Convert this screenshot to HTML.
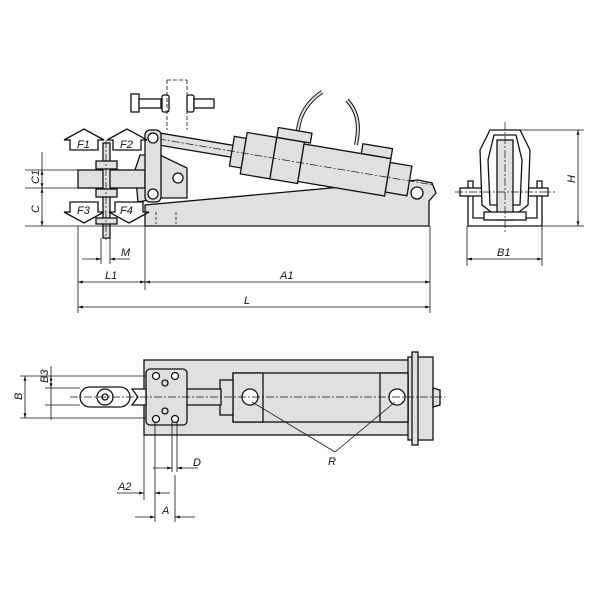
<!DOCTYPE html>
<html><head><meta charset="utf-8"><style>
html,body{margin:0;padding:0;background:#fff}
svg{display:block}
text{font-family:"Liberation Sans",sans-serif;font-style:italic;font-size:11px;fill:#111}
.s{stroke:#111;stroke-width:1.3;fill:#e0e0e0}
.w{stroke:#111;stroke-width:1.3;fill:#fff}
.l{stroke:#111;stroke-width:0.8;fill:none}
.c{stroke:#111;stroke-width:0.7;fill:none;stroke-dasharray:8 2 2 2}
</style></head><body>
<svg width="600" height="600" viewBox="0 0 600 600" xmlns="http://www.w3.org/2000/svg">
<defs>
<marker id="a" viewBox="0 0 10 10" refX="10" refY="5" markerWidth="6" markerHeight="6" orient="auto-start-reverse"><path d="M0,2 L10,5 L0,8 z" fill="#111"/></marker>
</defs>

<!-- ===== SIDE VIEW ===== -->
<path class="s" d="M145,226 L429,226 L429,201 L436,193 L432,183 L418,180 L145,205 Z"/>
<circle class="w" cx="417" cy="193" r="6"/>
<line class="l" x1="156" y1="212" x2="156" y2="224" stroke-dasharray="3 2"/>
<line class="l" x1="176" y1="212" x2="176" y2="224" stroke-dasharray="3 2"/>

<!-- cables -->
<path d="M298,130 C300,112 310,100 322,92" fill="none" stroke="#111" stroke-width="4"/>
<path d="M298,130 C300,112 310,100 322,92" fill="none" stroke="#e0e0e0" stroke-width="2"/>
<path d="M356,145 C360,125 358,112 347,100" fill="none" stroke="#111" stroke-width="4"/>
<path d="M356,145 C360,125 358,112 347,100" fill="none" stroke="#e0e0e0" stroke-width="2"/>

<g transform="translate(153,138) rotate(9.5)">
  <rect class="s" x="5" y="-6" width="78" height="12"/>
  <rect class="s" x="80" y="-15" width="12" height="30"/>
  <rect class="s" x="92" y="-21" width="30" height="42"/>
  <rect class="s" x="122" y="-21" width="28" height="42"/>
  <rect class="s" x="150" y="-19" width="88" height="38"/>
  <rect class="s" x="238" y="-15" width="22" height="30"/>
  <rect class="s" x="122" y="-31" width="34" height="10"/>
  <rect class="s" x="208" y="-29" width="30" height="10"/>
  <line class="c" x1="5" y1="0" x2="285" y2="0"/>
</g>

<path class="s" d="M138,202 L135,170 L140,155 L160,155 L187,168 L187,198 L160,198 Z"/>
<circle class="w" cx="178" cy="178" r="5"/>
<rect class="s" x="78" y="170" width="67" height="18"/>
<rect class="s" x="103" y="143" width="7" height="95"/>
<rect class="s" x="96" y="161" width="21" height="8"/>
<rect class="s" x="96" y="189" width="21" height="8"/>
<rect class="s" x="96" y="218" width="21" height="6"/>
<line class="c" x1="106" y1="140" x2="106" y2="240"/>
<rect class="s" x="145" y="130" width="16" height="72" rx="5"/>
<circle class="w" cx="153" cy="138" r="5"/>
<circle class="w" cx="153" cy="194" r="5"/>

<path class="w" d="M70,150 L70,140 L64,140 L84,129 L104,140 L98,140 L98,150 Z"/>
<text x="77" y="148">F1</text>
<path class="w" d="M113,150 L113,140 L107,140 L127,129 L147,140 L141,140 L141,150 Z"/>
<text x="120" y="148">F2</text>
<path class="w" d="M70,202 L98,202 L98,212 L104,212 L84,223 L64,212 L70,212 Z"/>
<text x="77" y="214">F3</text>
<path class="w" d="M115,202 L143,202 L143,212 L149,212 L129,223 L109,212 L115,212 Z"/>
<text x="120" y="214">F4</text>

<rect class="w" x="131" y="94" width="8" height="18"/>
<rect class="w" x="139" y="99" width="22" height="9"/>
<rect class="w" x="162" y="95" width="7" height="17" rx="2"/>
<rect class="w" x="187" y="95" width="7" height="17" rx="2"/>
<rect class="w" x="194" y="99" width="20" height="9"/>
<path class="l" d="M167,80 L167,130 M187,80 L187,130 M167,80 L187,80" stroke-dasharray="4 2"/>

<line class="l" x1="25" y1="170" x2="80" y2="170"/>
<line class="l" x1="25" y1="188" x2="80" y2="188"/>
<line class="l" x1="25" y1="226" x2="429" y2="226"/>
<line class="l" x1="42" y1="152" x2="42" y2="170"/>
<line class="l" x1="42" y1="170" x2="42" y2="188" marker-start="url(#a)" marker-end="url(#a)"/>
<line class="l" x1="42" y1="188" x2="42" y2="226" marker-start="url(#a)" marker-end="url(#a)"/>
<text transform="translate(39,184) rotate(-90)">C1</text>
<text transform="translate(39,213) rotate(-90)">C</text>
<line class="l" x1="78" y1="226" x2="78" y2="313"/>
<line class="l" x1="145" y1="205" x2="145" y2="290"/>
<line class="l" x1="430" y1="226" x2="430" y2="313"/>
<line class="l" x1="101" y1="238" x2="101" y2="264"/>
<line class="l" x1="110" y1="238" x2="110" y2="264"/>
<line class="l" x1="82" y1="259" x2="101" y2="259" marker-end="url(#a)"/>
<line class="l" x1="130" y1="259" x2="110" y2="259" marker-end="url(#a)"/>
<text x="121" y="256">M</text>
<line class="l" x1="78" y1="282" x2="145" y2="282" marker-start="url(#a)" marker-end="url(#a)"/>
<line class="l" x1="145" y1="282" x2="430" y2="282" marker-start="url(#a)" marker-end="url(#a)"/>
<text x="105" y="279">L1</text>
<text x="280" y="279">A1</text>
<line class="l" x1="78" y1="307" x2="430" y2="307" marker-start="url(#a)" marker-end="url(#a)"/>
<text x="244" y="304">L</text>

<!-- ===== END VIEW ===== -->
<path class="w" d="M468,181 L473,181 L473,218 L537,218 L537,181 L542,181 L542,226 L468,226 Z"/>
<rect class="w" x="460" y="188" width="88" height="8"/>
<path class="w" d="M490,130 L520,130 L530,150 L528,205 L515,215 L495,215 L482,205 L480,150 Z"/>
<path class="w" d="M494,135 L516,135 L522,160 L520,205 L490,205 L488,160 Z"/>
<rect class="s" x="497" y="140" width="16" height="80"/>
<rect class="w" x="484" y="212" width="42" height="8"/>
<line class="c" x1="505" y1="122" x2="505" y2="232"/>
<line class="c" x1="455" y1="192" x2="555" y2="192"/>
<line class="l" x1="518" y1="130" x2="584" y2="130"/>
<line class="l" x1="542" y1="226" x2="584" y2="226"/>
<line class="l" x1="578" y1="130" x2="578" y2="226" marker-start="url(#a)" marker-end="url(#a)"/>
<text transform="translate(575,183) rotate(-90)">H</text>
<line class="l" x1="467" y1="226" x2="467" y2="266"/>
<line class="l" x1="542" y1="226" x2="542" y2="266"/>
<line class="l" x1="467" y1="259" x2="542" y2="259" marker-start="url(#a)" marker-end="url(#a)"/>
<text x="497" y="256">B1</text>

<!-- ===== TOP VIEW ===== -->
<rect class="s" x="144" y="360" width="286" height="75"/>
<rect class="s" x="408" y="357" width="25" height="83"/>
<path class="s" d="M433,388 L440,390 L440,405 L433,407 Z"/>
<rect class="s" x="412" y="352" width="6" height="93"/>
<rect class="s" x="233" y="373" width="175" height="49"/>
<rect class="s" x="233" y="373" width="30" height="49"/>
<rect class="s" x="380" y="373" width="28" height="49"/>
<rect class="s" x="220" y="380" width="13" height="35"/>
<rect class="s" x="163" y="389" width="58" height="16"/>
<rect class="s" x="146" y="369" width="41" height="56" rx="4"/>
<circle class="w" cx="156" cy="376" r="3.5"/>
<circle class="w" cx="175" cy="376" r="3.5"/>
<circle class="w" cx="156" cy="419" r="3.5"/>
<circle class="w" cx="175" cy="419" r="3.5"/>
<circle class="s" cx="165" cy="383" r="3"/>
<circle class="s" cx="165" cy="411" r="3"/>
<path class="w" d="M132,389 L146,389 L146,405 L132,405 L138,397 Z"/>
<rect class="w" x="80" y="387" width="50" height="20" rx="10"/>
<circle class="w" cx="105" cy="397" r="8"/>
<circle class="w" cx="105" cy="397" r="3"/>
<circle class="w" cx="250" cy="397" r="8"/>
<circle class="w" cx="397" cy="397" r="8"/>
<line class="c" x1="70" y1="397" x2="445" y2="397"/>
<line class="l" x1="252" y1="402" x2="335" y2="452"/>
<line class="l" x1="395" y1="402" x2="335" y2="452"/>
<text x="328" y="465">R</text>

<line class="l" x1="20" y1="376" x2="146" y2="376"/>
<line class="l" x1="20" y1="418" x2="146" y2="418"/>
<line class="l" x1="45" y1="388" x2="80" y2="388"/>
<line class="l" x1="45" y1="405" x2="80" y2="405"/>
<line class="l" x1="25" y1="376" x2="25" y2="418" marker-start="url(#a)" marker-end="url(#a)"/>
<text transform="translate(22,400) rotate(-90)">B</text>
<line class="l" x1="51" y1="366" x2="51" y2="376" />
<line class="l" x1="51" y1="376" x2="51" y2="388" marker-start="url(#a)" marker-end="url(#a)"/>
<line class="l" x1="51" y1="388" x2="51" y2="420"/>
<text transform="translate(48,383) rotate(-90)">B3</text>
<line class="l" x1="144" y1="435" x2="144" y2="500"/>
<line class="l" x1="155" y1="422" x2="155" y2="522"/>
<line class="l" x1="172" y1="422" x2="172" y2="472"/>
<line class="l" x1="177" y1="422" x2="177" y2="472"/>
<line class="l" x1="175" y1="475" x2="175" y2="522"/>
<line class="l" x1="153" y1="468" x2="172" y2="468" marker-end="url(#a)"/>
<line class="l" x1="198" y1="468" x2="177" y2="468" marker-end="url(#a)"/>
<text x="193" y="466">D</text>
<line class="l" x1="117" y1="493" x2="144" y2="493" marker-end="url(#a)"/>
<line class="l" x1="170" y1="493" x2="155" y2="493" marker-end="url(#a)"/>
<text x="118" y="490">A2</text>
<line class="l" x1="135" y1="517" x2="155" y2="517" marker-end="url(#a)"/>
<line class="l" x1="195" y1="517" x2="175" y2="517" marker-end="url(#a)"/>
<text x="162" y="514">A</text>
</svg>
</body></html>
